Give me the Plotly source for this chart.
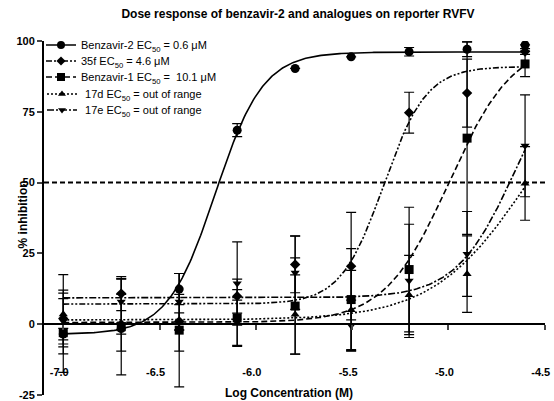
import numpy as np
import plotly.graph_objects as go

# ---- data ----
conc_uM = [0.1, 0.2, 0.4, 0.8, 1.6, 3.125, 6.25, 12.5, 25.0]
log_conc = [float(np.log10(c * 1e-6)) for c in conc_uM]

names = [
    "Benzavir-2 EC<sub>50</sub> = 0.6 μM",
    "35f EC<sub>50</sub> = 4.6 μM",
    "Benzavir-1 EC<sub>50</sub> =  10.1 μM",
    " 17d EC<sub>50</sub> = out of range",
    " 17e EC<sub>50</sub> = out of range",
]

benzavir2_mean = [-3.5, -1.5, 12.4, 68.5, 90.3, 94.4, 96.2, 97.1, 98.6]
benzavir2_sd = [2.0, 2.0, 5.5, 2.3, 0.0, 0.0, 1.5, 2.6, 0.0]

f35_mean = [2.0, 10.8, 1.0, 9.9, 21.1, 20.5, 74.7, 81.6, 96.3]
f35_sd = [10.0, 6.0, 3.0, 6.0, 10.0, 19.0, 7.2, 12.0, 1.0]

benzavir1_mean = [-3.0, -0.9, -2.1, 2.2, 6.4, 8.7, 19.3, 65.7, 91.9]
benzavir1_sd = [14.0, 17.0, 20.0, 10.0, 17.0, 18.0, 22.0, 34.0, 4.5]

d17_mean = [3.5, 0.5, 0.5, 0.5, 3.4, 5.0, 10.3, 17.7, 49.7]
d17_sd = [14.0, 10.0, 10.0, 8.0, 14.0, 14.0, 14.0, 13.5, 13.0]

e17_mean = [1.0, 7.9, 7.9, 14.4, 18.2, -0.5, 15.3, 24.8, 63.0]
e17_sd = [8.0, 8.0, 10.0, 14.7, 13.0, 9.0, 20.0, 15.0, 18.0]

# four-parameter logistic fit parameters: bottom, top, logEC50, hill
fit_benzavir2 = (-3.6, 96.1, -6.21, 3.5)
fit_35f = (7.1, 91.0, -5.337, 3.9)
fit_benzavir1 = (0.6, 100.0, -4.996, 2.6)
fit_17d = (1.5, 100.0, -4.58, 1.75)
fit_17e = (9.3, 100.0, -4.65, 2.8)

x_ticks = [-7.0, -6.5, -6.0, -5.5, -5.0, -4.5]
y_ticks = [-25, 0, 25, 50, 75, 100]


def four_pl(x, p):
    b, t, ec, h = p
    x = np.asarray(x)
    return b + (t - b) / (1.0 + 10 ** ((ec - x) * h))


series = [
    (names[0], benzavir2_mean, benzavir2_sd, fit_benzavir2, "circle", 9, "solid"),
    (names[1], f35_mean, f35_sd, fit_35f, "diamond", 8, "6px,2px,2px,2px,2px,2px"),
    (names[2], benzavir1_mean, benzavir1_sd, fit_benzavir1, "square", 9, "6px,3px"),
    (names[3], d17_mean, d17_sd, fit_17d, "triangle-up", 8, "2px,2px"),
    (names[4], e17_mean, e17_sd, fit_17e, "triangle-down", 8, "7px,2px,2px,2px"),
]

FONT = "Arial, Liberation Sans, sans-serif"
fig = go.Figure()

# plot-area geometry (pixels) used to place legends
PLOT_TOP, PLOT_BOTTOM, PLOT_LEFT, PLOT_RIGHT = 41, 395, 44, 545
legend_rows_px = [45, 61, 77, 94, 110]
legend_text_left_px = [83, 83, 83, 84, 84]

xfit = np.linspace(log_conc[0], log_conc[-1], 300)
legend_layouts = {}
for i, (name, mean, sd, p, sym, size, dash) in enumerate(series):
    fig.add_trace(go.Scatter(
        x=xfit, y=four_pl(xfit, p), mode="lines",
        line=dict(color="black", width=1.6, dash=dash),
        showlegend=False, hoverinfo="skip"))
    fig.add_trace(go.Scatter(
        x=log_conc, y=mean, mode="markers",
        marker=dict(symbol=sym, size=size, color="black"),
        error_y=dict(type="data", array=sd, visible=True, color="black",
                     thickness=1.2, width=5),
        showlegend=False))
    lname = "legend" if i == 0 else "legend%d" % (i + 1)
    fig.add_trace(go.Scatter(
        x=[None], y=[None], mode="lines+markers", name=name, legend=lname,
        marker=dict(symbol=sym, size=size - 1, color="black"),
        line=dict(color="black", width=1.6, dash=dash)))
    ypx = legend_rows_px[i]
    legend_layouts[lname] = dict(
        x=(legend_text_left_px[i] - 42 - PLOT_LEFT) / (PLOT_RIGHT - PLOT_LEFT),
        y=(PLOT_BOTTOM - ypx) / (PLOT_BOTTOM - PLOT_TOP),
        xanchor="left", yanchor="middle",
        bgcolor="rgba(0,0,0,0)", font=dict(size=11, family=FONT),
        itemwidth=30, borderwidth=0)

# 50 % reference line
fig.add_hline(y=50, line=dict(color="black", width=2, dash="5px,3px"))

fig.update_layout(
    width=554, height=401,
    margin=dict(l=PLOT_LEFT, r=554 - PLOT_RIGHT, t=PLOT_TOP, b=401 - PLOT_BOTTOM),
    paper_bgcolor="white", plot_bgcolor="white",
    font=dict(family=FONT, color="black", size=11),
    title=dict(text="<b>Dose response of benzavir-2 and analogues on reporter RVFV</b>",
               x=0.507, xref="paper", y=1 - 14 / 401, yanchor="middle",
               font=dict(size=12, family=FONT)),
    xaxis=dict(range=[-7.1, -4.4985], tickvals=x_ticks,
               ticktext=["<b>%.1f</b>" % v for v in x_ticks],
               showgrid=False, zeroline=False, showline=True, linewidth=2,
               linecolor="black", ticks="outside", ticklen=5, tickwidth=1.5,
               anchor="free", position=0.2, ticklabelstandoff=33,
               ticklabelshift=-4, ticklabeloverflow="allow",
               automargin=False, tickfont=dict(size=11)),
    yaxis=dict(range=[-25, 100], tickvals=y_ticks,
               ticktext=["<b>%d</b>" % v for v in y_ticks],
               showgrid=False, zeroline=False, showline=True, linewidth=2,
               linecolor="black", ticks="outside", ticklen=5, tickwidth=1.5,
               automargin=False, tickfont=dict(size=11)),
    showlegend=True,
    **legend_layouts,
)

fig.add_annotation(text="<b>Log Concentration (M)</b>", xref="paper", yref="paper",
                   x=0.49, y=(PLOT_BOTTOM - 393) / (PLOT_BOTTOM - PLOT_TOP),
                   yanchor="middle", showarrow=False, font=dict(size=12))
fig.add_annotation(text="<b>% inhibition</b>", xref="paper", yref="paper",
                   x=-0.058, y=0.51, textangle=-90, showarrow=False,
                   font=dict(size=12))

fig.write_html("out.html")
